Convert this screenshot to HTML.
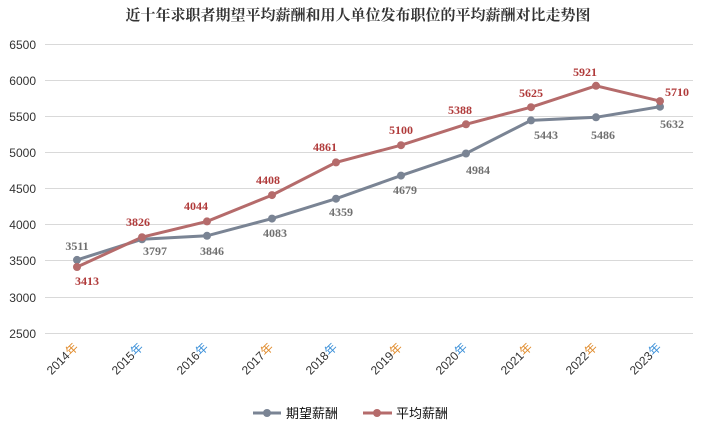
<!DOCTYPE html>
<html><head><meta charset="utf-8"><style>
html,body{margin:0;padding:0;background:#fff;}
svg{display:block;font-family:"Liberation Sans","Noto Sans CJK SC",sans-serif;}
</style></head><body>
<svg width="712" height="430" viewBox="0 0 712 430" xmlns="http://www.w3.org/2000/svg">
<text x="358" y="20" text-anchor="middle" font-family="Liberation Serif,Noto Serif CJK SC,serif" font-size="15" font-weight="bold" fill="#333">近十年求职者期望平均薪酬和用人单位发布职位的平均薪酬对比走势图</text>
<g stroke="#d9d9d9" stroke-width="1">
<line x1="45" x2="693" y1="44.5" y2="44.5"/><line x1="45" x2="693" y1="80.5" y2="80.5"/>
<line x1="45" x2="693" y1="116.5" y2="116.5"/><line x1="45" x2="693" y1="152.5" y2="152.5"/>
<line x1="45" x2="693" y1="188.5" y2="188.5"/><line x1="45" x2="693" y1="224.5" y2="224.5"/>
<line x1="45" x2="693" y1="260.5" y2="260.5"/><line x1="45" x2="693" y1="297.5" y2="297.5"/>
<line x1="45" x2="693" y1="333.5" y2="333.5"/>
</g>
<g font-size="12" fill="#333" text-anchor="end">
<text x="36" y="49">6500</text><text x="36" y="85">6000</text><text x="36" y="121">5500</text>
<text x="36" y="157">5000</text><text x="36" y="193">4500</text><text x="36" y="229">4000</text>
<text x="36" y="265">3500</text><text x="36" y="302">3000</text><text x="36" y="338">2500</text>
</g>
<g font-size="12" fill="#333" text-anchor="end">
<text transform="translate(79,348) rotate(-45)">2014<tspan fill="#e08a2a">年</tspan></text>
<text transform="translate(144,348) rotate(-45)">2015<tspan fill="#3a8fd8">年</tspan></text>
<text transform="translate(209,348) rotate(-45)">2016<tspan fill="#3a8fd8">年</tspan></text>
<text transform="translate(274,348) rotate(-45)">2017<tspan fill="#e08a2a">年</tspan></text>
<text transform="translate(338,348) rotate(-45)">2018<tspan fill="#3a8fd8">年</tspan></text>
<text transform="translate(403,348) rotate(-45)">2019<tspan fill="#e08a2a">年</tspan></text>
<text transform="translate(468,348) rotate(-45)">2020<tspan fill="#3a8fd8">年</tspan></text>
<text transform="translate(533,348) rotate(-45)">2021<tspan fill="#e08a2a">年</tspan></text>
<text transform="translate(598,348) rotate(-45)">2022<tspan fill="#e08a2a">年</tspan></text>
<text transform="translate(662,348) rotate(-45)">2023<tspan fill="#3a8fd8">年</tspan></text>
</g>
<polyline fill="none" stroke="#7a8494" stroke-width="3" points="77,259.9 142,239.3 207,235.8 272,218.6 336,198.7 401,175.6 466,153.5 531,120.4 596,117.3 660,106.7"/>
<polyline fill="none" stroke="#b56b6b" stroke-width="3" points="77,267 142,237.2 207,221.4 272,195.1 336,162.4 401,145.2 466,124.3 531,107.2 596,85.8 660,101.1"/>
<g fill="#7a8494">
<circle cx="77" cy="259.9" r="4"/><circle cx="142" cy="239.3" r="4"/><circle cx="207" cy="235.8" r="4"/><circle cx="272" cy="218.6" r="4"/><circle cx="336" cy="198.7" r="4"/><circle cx="401" cy="175.6" r="4"/><circle cx="466" cy="153.5" r="4"/><circle cx="531" cy="120.4" r="4"/><circle cx="596" cy="117.3" r="4"/><circle cx="660" cy="106.7" r="4"/>
</g>
<g fill="#b56b6b">
<circle cx="77" cy="267" r="4"/><circle cx="142" cy="237.2" r="4"/><circle cx="207" cy="221.4" r="4"/><circle cx="272" cy="195.1" r="4"/><circle cx="336" cy="162.4" r="4"/><circle cx="401" cy="145.2" r="4"/><circle cx="466" cy="124.3" r="4"/><circle cx="531" cy="107.2" r="4"/><circle cx="596" cy="85.8" r="4"/><circle cx="660" cy="101.1" r="4"/>
</g>
<g font-family="Liberation Serif,serif" font-size="12" font-weight="bold" fill="#707070" text-anchor="middle">
<text x="77" y="250">3511</text><text x="155" y="255">3797</text><text x="212" y="255">3846</text>
<text x="275" y="237">4083</text><text x="341" y="216">4359</text><text x="405" y="194">4679</text>
<text x="478" y="174">4984</text><text x="546" y="139">5443</text><text x="603" y="139">5486</text>
<text x="672" y="128">5632</text>
</g>
<g font-family="Liberation Serif,serif" font-size="12" font-weight="bold" fill="#b03a3a" text-anchor="middle">
<text x="87" y="285">3413</text><text x="138" y="226">3826</text><text x="196" y="210">4044</text>
<text x="268" y="184">4408</text><text x="325" y="151">4861</text><text x="401" y="134">5100</text>
<text x="460" y="114">5388</text><text x="531" y="97">5625</text><text x="585" y="76">5921</text>
<text x="677" y="96">5710</text>
</g>
<line x1="253" x2="281" y1="413" y2="413" stroke="#7a8494" stroke-width="3"/>
<circle cx="267" cy="413" r="4" fill="#7a8494"/>
<text x="286" y="418" font-size="13" fill="#111">期望薪酬</text>
<line x1="363" x2="392" y1="413" y2="413" stroke="#b56b6b" stroke-width="3"/>
<circle cx="377" cy="413" r="4" fill="#b56b6b"/>
<text x="396" y="418" font-size="13" fill="#111">平均薪酬</text>
</svg>
</body></html>
